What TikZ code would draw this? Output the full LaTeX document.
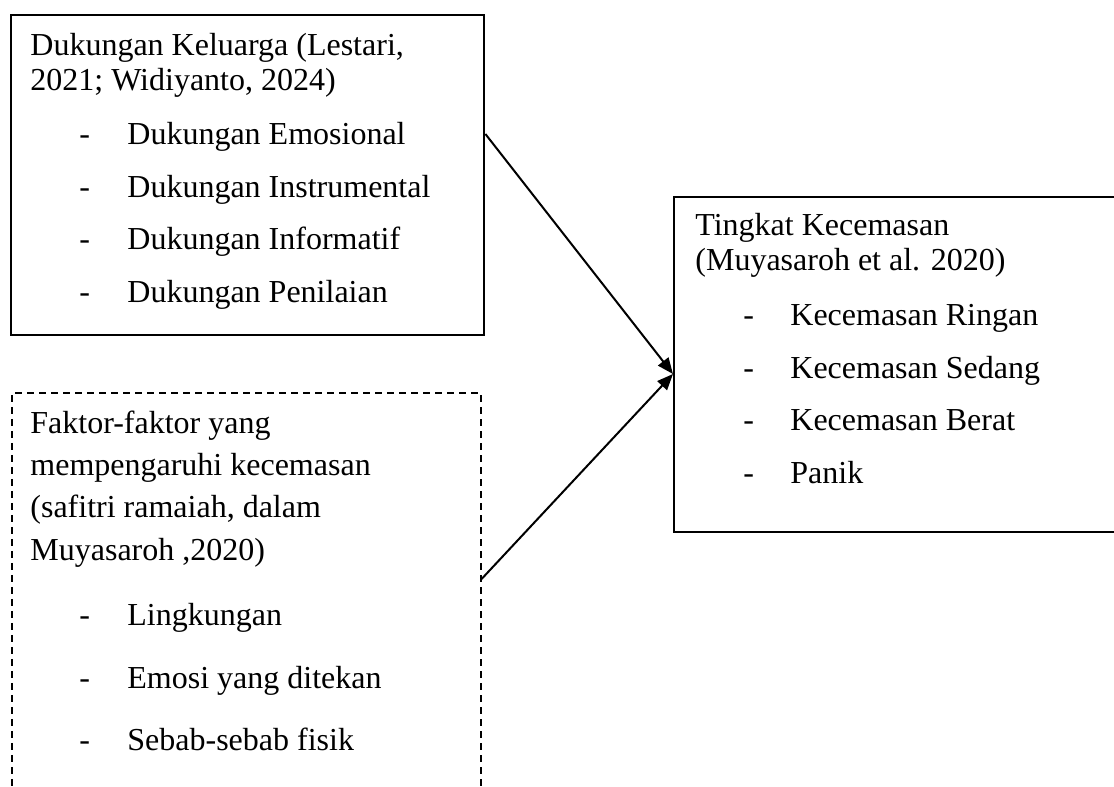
\documentclass[tikz,border=0pt]{standalone}
\usepackage{fontspec}
\setmainfont{Liberation Serif}
\usetikzlibrary{arrows.meta,positioning}
\begin{document}
\begin{tikzpicture}[x=0.5pt,y=-0.5pt,
  box/.style={draw,line width=1.2pt,inner sep=0,anchor=north west},
  dbox/.style={draw,line width=0.8pt,dash pattern=on 3.5pt off 2.5pt,inner sep=0,anchor=north west},
  txt/.style={anchor=base west,inner sep=0,font=\fontsize{16}{19}\selectfont},
  arr/.style={line width=1pt,-{Triangle[length=8pt,width=6.5pt]}}]
\path[use as bounding box,clip] (0,0) rectangle (1114,787);
\fill[white] (0,0) rectangle (1114,787);
% boxes
\node[box,minimum width=236.5pt,minimum height=160pt] (b1) at (10,14) {};
\node[dbox,minimum width=234.5pt,minimum height=220pt] (b2) at (11,392) {};
\node[box,minimum width=240pt,minimum height=167.5pt] (b3) at (673,196) {};
% box 1 text
\node[txt] (b1t1) at (30,55) {Dukungan Keluarga (Lestari,};
\node[txt] (b1t2) at (30,90) {2021; Widiyanto, 2024)};
\foreach \y/\t [count=\i] in {144/Dukungan Emosional,197/Dukungan Instrumental,249/Dukungan Informatif,302/Dukungan Penilaian}{
  \node[txt] (b1d\i) at (79,\y) {-};
  \node[txt] (b1i\i) at (127,\y) {\t};
}
% box 2 text
\node[txt] (b2t1) at (30,433) {Faktor-faktor yang};
\node[txt] (b2t2) at (30,475) {mempengaruhi kecemasan};
\node[txt] (b2t3) at (30,517) {(safitri ramaiah, dalam};
\node[txt] (b2t4) at (30,560) {Muyasaroh ,2020)};
\foreach \y/\t [count=\i] in {625/Lingkungan,688/Emosi yang ditekan,750/Sebab-sebab fisik}{
  \node[txt] (b2d\i) at (79,\y) {-};
  \node[txt] (b2i\i) at (127,\y) {\t};
}
% box 3 text
\node[txt] (b3t1) at (695,235) {Tingkat Kecemasan};
\node[txt] (b3t2) at (695,270) {(Muyasaroh et al. 2020)};
\foreach \y/\t [count=\i] in {325/Kecemasan Ringan,378/Kecemasan Sedang,430/Kecemasan Berat,483/Panik}{
  \node[txt] (b3d\i) at (743,\y) {-};
  \node[txt] (b3i\i) at (790,\y) {\t};
}
% connectors
\coordinate (s1) at (b1.east |- 0,134);
\coordinate (s2) at (b2.east |- 0,579);
\coordinate (tip) at (b3.west |- 0,374);
\draw[arr] (s1) -- (tip);
\draw[arr] (s2) -- (tip);
\end{tikzpicture}
\end{document}
